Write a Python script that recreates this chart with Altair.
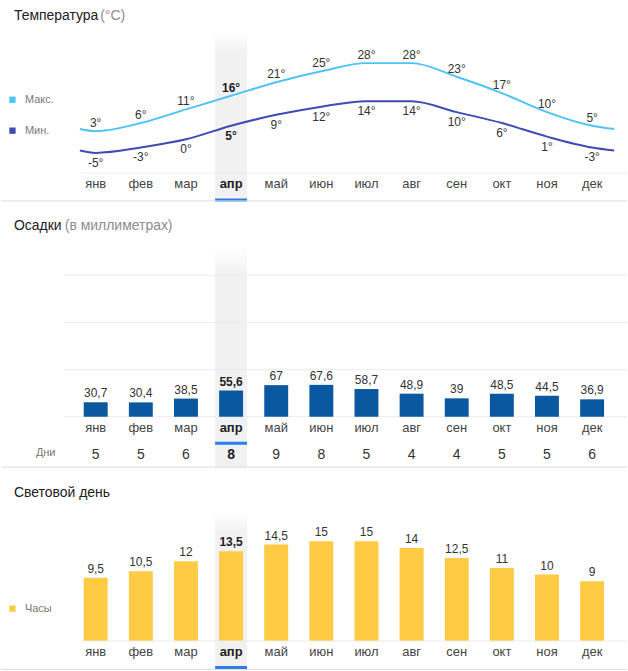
import altair as alt
import pandas as pd

# ---------------- data ----------------
months = ["янв", "фев", "мар", "апр", "май", "июн", "июл", "авг", "сен", "окт", "ноя", "дек"]
t_max = [3, 6, 11, 16, 21, 25, 28, 28, 23, 17, 10, 5]
t_min = [-5, -3, 0, 5, 9, 12, 14, 14, 10, 6, 1, -3]
# where the curves run out at the left/right edges
edge_idx = [-0.35, 11.49]
edge_max = [3.8, 3.8]
edge_min = [-4.1, -4.1]
precip = [30.7, 30.4, 38.5, 55.6, 67, 67.6, 58.7, 48.9, 39, 48.5, 44.5, 36.9]
rain_days = [5, 5, 6, 8, 9, 8, 5, 4, 4, 5, 5, 6]
daylight = [9.5, 10.5, 12, 13.5, 14.5, 15, 15, 14, 12.5, 11, 10, 9]
precip_grid = [0, 100, 200, 300]
current = 3  # апр is highlighted

titles = {
    "temp": ("Температура", "(°C)"),
    "precip": ("Осадки", "(в миллиметрах)"),
    "sun": ("Световой день", ""),
}
legend_temp = ["Макс.", "Мин."]
legend_sun = ["Часы"]
days_label = ["Дни"]

# ---------------- style ----------------
FONT = "Liberation Sans, Arial, sans-serif"
W = 628
STEP = 45.2727
X0 = 95.0
C_MAX = "#4fc3f7"
C_MIN = "#3f4db3"
C_RAIN = "#0a58a0"
C_SUN = "#ffcb45"
C_ACC = "#2b7de9"
C_SEP = "#dadce0"
C_GRID = "#ececec"
C_VAL = "#333333"
C_LBL = "#444444"
C_MUTED = "#777777"

xscale = alt.Scale(domain=[-X0 / STEP, (W - X0) / STEP], nice=False, zero=False, padding=0)
X = alt.X("idx:Q", scale=xscale, axis=None)


def fmt(v):
    return f"{v:g}".replace(".", ",")


df = pd.DataFrame({
    "idx": list(range(12)),
    "month": months,
    "tmax": t_max,
    "tmin": t_min,
    "tmax_l": [f"{v}°" for v in t_max],
    "tmin_l": [f"{v}°" for v in t_min],
    "precip": precip,
    "precip_l": [fmt(v) for v in precip],
    "days": [str(v) for v in rain_days],
    "sun": daylight,
    "sun_l": [fmt(v) for v in daylight],
})
df_cur = df[df.idx == current]

line_max = pd.DataFrame({"idx": [edge_idx[0]] + list(range(12)) + [edge_idx[1]],
                         "t": [edge_max[0]] + t_max + [edge_max[1]]})
line_min = pd.DataFrame({"idx": [edge_idx[0]] + list(range(12)) + [edge_idx[1]],
                         "t": [edge_min[0]] + t_min + [edge_min[1]]})

band_grad = alt.LinearGradient(
    gradient="linear", x1=0, x2=0, y1=0, y2=1,
    stops=[alt.GradientStop(color="#ffffff", offset=0),
           alt.GradientStop(color="#f1f1f1", offset=0.13),
           alt.GradientStop(color="#f1f1f1", offset=1)],
)


def texts(y_enc, field, size, color, dy=0):
    base = alt.Chart(df).encode(x=X, y=y_enc, text=f"{field}:N")
    normal = base.transform_filter(f"datum.idx != {current}").mark_text(
        font=FONT, fontSize=size, color=color, dy=dy, baseline="middle")
    bold = base.transform_filter(f"datum.idx == {current}").mark_text(
        font=FONT, fontSize=size, color="#202124", dy=dy, baseline="middle", fontWeight="bold")
    return [normal, bold]


def band(y_top, y_bot):
    return alt.Chart(df_cur).transform_calculate(
        x1=f"datum.idx - 16/{STEP}", x2=f"datum.idx + 16/{STEP}"
    ).mark_rect(color=band_grad).encode(
        x=alt.X("x1:Q", scale=xscale, axis=None), x2="x2:Q",
        y=alt.value(y_top), y2=alt.value(y_bot))


def underline(y_top, y_bot):
    return alt.Chart(df_cur).transform_calculate(
        x1=f"datum.idx - 16/{STEP}", x2=f"datum.idx + 16/{STEP}"
    ).mark_rect(color=C_ACC).encode(
        x=alt.X("x1:Q", scale=xscale, axis=None), x2="x2:Q",
        y=alt.value(y_top), y2=alt.value(y_bot))


def title(key, y):
    main, sub = titles[key]
    out = [alt.Chart(pd.DataFrame({"t": [main]})).mark_text(
        font=FONT, fontSize=14, color="#202124", align="left", baseline="alphabetic"
    ).encode(x=alt.value(13), y=alt.value(y), text="t:N")]
    if sub:
        sub_x = {"temp": 99.5, "precip": 64}[key]
        out.append(alt.Chart(pd.DataFrame({"t": [sub]})).mark_text(
            font=FONT, fontSize=14, color="#8a8d91", align="left", baseline="alphabetic"
        ).encode(x=alt.value(sub_x), y=alt.value(y), text="t:N"))
    return out


def legend_item(label, color, y):
    sq = alt.Chart(pd.DataFrame({"t": [label]})).mark_square(
        size=40, color=color, opacity=1).encode(x=alt.value(11.5), y=alt.value(y))
    tx = alt.Chart(pd.DataFrame({"t": [label]})).mark_text(
        font=FONT, fontSize=11, color=C_MUTED, align="left", baseline="middle"
    ).encode(x=alt.value(24), y=alt.value(y), text="t:N")
    return [sq, tx]


def hrule(y, x1, x2, color):
    return alt.Chart(pd.DataFrame({"a": [0]})).mark_rule(color=color, strokeWidth=1).encode(
        x=alt.value(x1), x2=alt.value(x2), y=alt.value(y))


# ---------------- panel 1: temperature ----------------
ys_t = alt.Scale(domain=[(138.7 - 201) / 2.73, 138.7 / 2.73], nice=False, zero=False, padding=0)
Yt = alt.Y("t:Q", scale=ys_t, axis=None)

p1_layers = [band(30, 201), hrule(172.5, 80, W, "#ededed")]
p1_layers += title("temp", 18.5)
p1_layers += legend_item(legend_temp[0], C_MAX, 99)
p1_layers += legend_item(legend_temp[1], C_MIN, 130)
p1_layers += [
    alt.Chart(line_max).mark_line(color=C_MAX, strokeWidth=2, interpolate="monotone").encode(x=X, y=Yt),
    alt.Chart(line_min).mark_line(color=C_MIN, strokeWidth=2, interpolate="monotone").encode(x=X, y=Yt),
]
p1_layers += texts(alt.Y("tmax:Q", scale=ys_t, axis=None), "tmax_l", 12, C_VAL, dy=-8)
p1_layers += texts(alt.Y("tmin:Q", scale=ys_t, axis=None), "tmin_l", 12, C_VAL, dy=10)
p1_layers += texts(alt.value(184), "month", 13, C_LBL)
p1_layers += [underline(198, 201), hrule(200.5, 0, W, C_SEP)]
p1 = alt.layer(*p1_layers).properties(width=W, height=201)

# ---------------- panel 2: precipitation ----------------
ys_p = alt.Scale(domain=[-51 / 0.4733, 216 / 0.4733], nice=False, zero=False, padding=0)

p2_layers = [band(46, 267)]
p2_layers += title("precip", 29)
p2_layers += [
    alt.Chart(pd.DataFrame({"g": precip_grid})).mark_rule(color=C_GRID).encode(
        y=alt.Y("g:Q", scale=ys_p, axis=None), x=alt.value(63), x2=alt.value(W)),
    alt.Chart(df).mark_bar(size=24, color=C_RAIN).encode(x=X, y=alt.Y("precip:Q", scale=ys_p, axis=None)),
]
p2_layers += texts(alt.Y("precip:Q", scale=ys_p, axis=None), "precip_l", 12, C_VAL, dy=-9)
p2_layers += texts(alt.value(227), "month", 13, C_LBL)
p2_layers += [underline(241, 244)]
p2_layers += [alt.Chart(pd.DataFrame({"t": days_label})).mark_text(
    font=FONT, fontSize=11, color=C_MUTED, align="left", baseline="middle"
).encode(x=alt.value(35), y=alt.value(252), text="t:N")]
p2_layers += texts(alt.value(254), "days", 14, C_VAL)
p2_layers += [hrule(266.5, 0, W, C_SEP)]
p2 = alt.layer(*p2_layers).properties(width=W, height=267)

# ---------------- panel 3: daylight ----------------
ys_s = alt.Scale(domain=[-29 / 6.67, 174 / 6.67], nice=False, zero=False, padding=0)

p3_layers = [band(44, 203)]
p3_layers += title("sun", 29.3)
p3_layers += legend_item(legend_sun[0], C_SUN, 141.5)
p3_layers += [
    alt.Chart(df).mark_bar(size=24, color=C_SUN).encode(x=X, y=alt.Y("sun:Q", scale=ys_s, axis=None)),
    alt.Chart(pd.DataFrame({"g": [0]})).mark_rule(color="#ededed").encode(
        y=alt.Y("g:Q", scale=ys_s, axis=None), x=alt.value(80), x2=alt.value(W)),
]
p3_layers += texts(alt.Y("sun:Q", scale=ys_s, axis=None), "sun_l", 12, C_VAL, dy=-9)
p3_layers += texts(alt.value(185), "month", 13, C_LBL)
p3_layers += [underline(199, 202), hrule(202.5, 0, W, C_SEP)]
p3 = alt.layer(*p3_layers).properties(width=W, height=203)

chart = alt.vconcat(p1, p2, p3, spacing=0, bounds="flush").properties(
    padding=0, background="white"
).configure_view(stroke=None)

chart.save("out.html", embed_options={"renderer": "svg", "actions": False})
